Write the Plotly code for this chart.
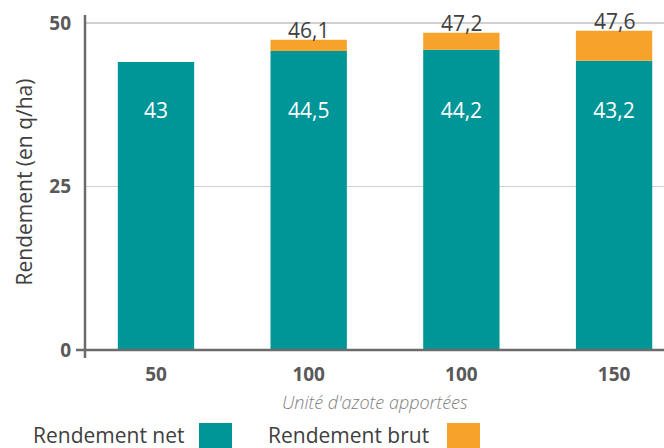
import plotly.graph_objects as go

# ---- data ----
categories = ["50", "100", "100", "150"]
net_height = [44.0, 45.7, 45.9, 44.2]        # drawn top of teal bars
brut_height = [None, 47.4, 48.5, 48.8]       # drawn top of orange bars
net_labels = [43, 44.5, 44.2, 43.2]          # printed values
brut_labels = [None, 46.1, 47.2, 47.6]
y_ticks = [0, 25, 50]

TEAL = "#009596"
ORANGE = "#F7A22B"
FONT = "Open Sans"


def fmt(v):
    return "" if v is None else f"{v:g}".replace(".", ",")


xs = list(range(len(categories)))
extra = [None if b is None else b - n for n, b in zip(net_height, brut_height)]

fig = go.Figure()
fig.add_trace(go.Bar(
    x=xs, y=net_height, marker=dict(color=TEAL, line=dict(width=0)),
    width=0.5, name="Rendement net", hoverinfo="skip",
))
fig.add_trace(go.Bar(
    x=xs, y=extra, base=net_height, marker=dict(color=ORANGE, line=dict(width=0)),
    width=0.5, name="Rendement brut", hoverinfo="skip",
))
# net value labels inside the teal bars (at a common height)
LABEL_LEVEL = 36.3
fig.add_trace(go.Scatter(
    x=xs, y=[LABEL_LEVEL] * len(xs), mode="text",
    text=[fmt(v) for v in net_labels],
    textfont=dict(family=FONT, size=21, color="white"),
    hoverinfo="skip", showlegend=False,
))

L, R, T, B = 84, 0, 15, 98
W, H = 664, 448
PW, PH = W - L - R, H - T - B


def px(xp):
    return (xp - L) / PW


def py(yp):
    return (H - B - yp) / PH


# brut labels sitting on top of the orange bars
top_labels = [
    dict(x=x, y=b, xref="x", yref="y", text=fmt(lbl), showarrow=False,
         xanchor="center", yanchor="bottom", yshift=-6,
         font=dict(family=FONT, size=21, color="#404040"))
    for x, b, lbl in zip(xs, brut_height, brut_labels) if b is not None
]

fig.update_layout(
    width=W, height=H,
    margin=dict(l=L, r=R, t=T, b=B, pad=0),
    paper_bgcolor="white", plot_bgcolor="white",
    barmode="overlay", showlegend=False,
    separators=", ",
    font=dict(family=FONT, color="#404040"),
    xaxis=dict(
        tickmode="array", tickvals=xs, ticktext=categories,
        range=[-0.4715, 3.327], showgrid=False, zeroline=False,
        showline=False, ticks="",
        tickfont=dict(family=FONT, size=19, color="#595959", weight="bold"),
        ticklabelstandoff=11,
    ),
    yaxis=dict(
        range=[0, 51.2], tickvals=y_ticks, ticktext=[str(v) for v in y_ticks],
        showgrid=True, gridcolor="#d0d0d0", gridwidth=1.5,
        zeroline=False, showline=False, ticks="",
        tickfont=dict(family=FONT, size=19, color="#595959", weight="bold"),
        ticklabelstandoff=12,
    ),
    shapes=[
        # x axis line with left overhang
        dict(type="line", xref="paper", yref="paper", x0=px(76), x1=1, y0=0, y1=0,
             line=dict(color="#6b6b6b", width=2.5), layer="above"),
        # y axis line with bottom overhang
        dict(type="line", xref="paper", yref="paper", x0=px(85), x1=px(85),
             y0=py(358), y1=1, line=dict(color="#6b6b6b", width=2.5), layer="above"),
        # legend swatches
        dict(type="rect", xref="paper", yref="paper", x0=px(199), x1=px(232),
             y0=py(456), y1=py(423), fillcolor=TEAL, line=dict(width=0)),
        dict(type="rect", xref="paper", yref="paper", x0=px(447), x1=px(480),
             y0=py(456), y1=py(423), fillcolor=ORANGE, line=dict(width=0)),
    ],
    annotations=top_labels + [
        dict(text="Rendement (en q/ha)", xref="paper", yref="paper",
             x=px(23), y=0.5, textangle=-90, showarrow=False,
             xanchor="center", yanchor="middle",
             font=dict(family=FONT, size=21, color="#404040")),
        dict(text="<i>Unité d'azote apportées</i>", xref="paper", yref="paper",
             x=px(375), y=py(402), showarrow=False,
             xanchor="center", yanchor="middle",
             font=dict(family=FONT, size=18, color="#808080", weight=300)),
        dict(text="Rendement net", xref="paper", yref="paper",
             x=px(186), y=py(435), showarrow=False,
             xanchor="right", yanchor="middle",
             font=dict(family=FONT, size=21, color="#404040")),
        dict(text="Rendement brut", xref="paper", yref="paper",
             x=px(431), y=py(435), showarrow=False,
             xanchor="right", yanchor="middle",
             font=dict(family=FONT, size=21, color="#404040")),
    ],
)

fig.write_html(
    "out.html",
    config={"displayModeBar": False, "staticPlot": True},
    post_script="document.body.style.margin='0';document.body.style.overflow='hidden';",
)
